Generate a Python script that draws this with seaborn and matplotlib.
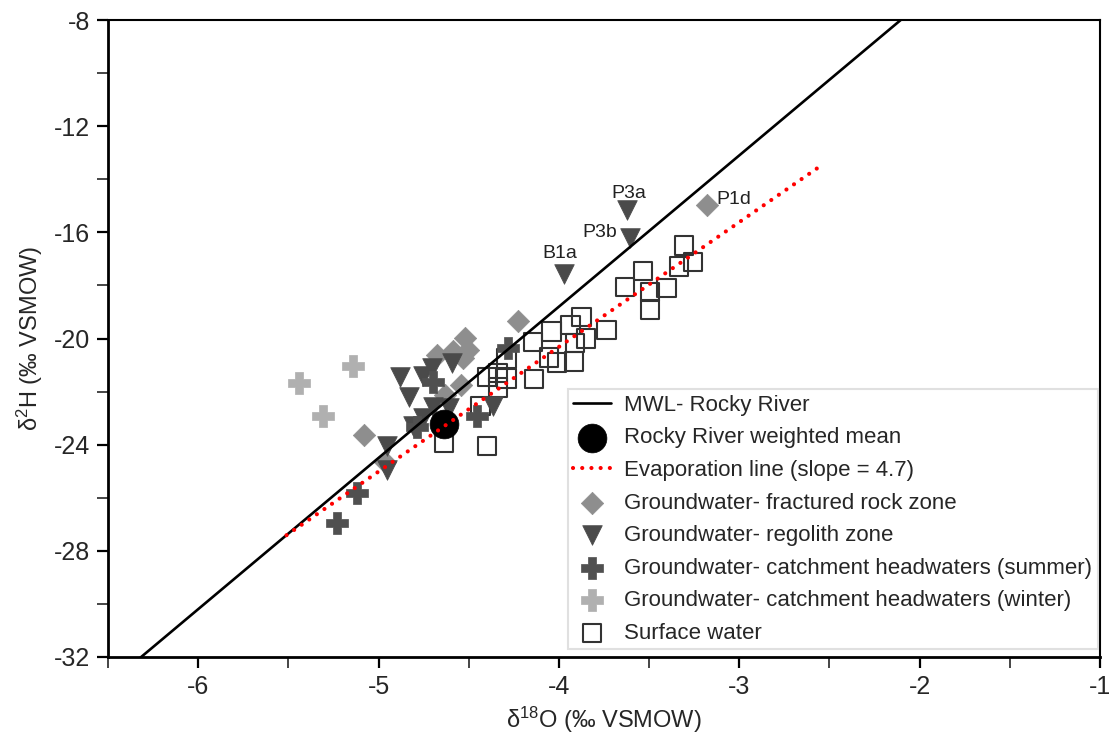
import matplotlib
matplotlib.use("Agg")
import matplotlib.pyplot as plt
from matplotlib.ticker import MultipleLocator, FormatStrFormatter
import numpy as np
import pandas as pd
import seaborn as sns

# ---------------- data ----------------
# Surface water
sw_x = [-3.307, -3.256, -3.335, -3.533, -3.634, -3.496, -3.403, -3.496, -3.736,
        -3.874, -3.935, -4.040, -3.850, -3.911, -4.142, -4.054, -4.010, -3.917,
        -4.139, -4.290, -4.336, -4.400, -4.336, -4.434, -4.400, -4.637, -4.290]
sw_y = [-16.49, -17.11, -17.29, -17.45, -18.05, -18.24, -18.09, -18.90, -19.68,
        -19.20, -19.49, -19.74, -20.00, -20.16, -20.12, -20.71, -20.91, -20.87,
        -21.53, -21.50, -21.29, -21.46, -21.84, -22.54, -24.05, -23.93, -20.75]

# Groundwater - fractured rock zone
fr_x = [-4.225, -4.521, -4.503, -4.586, -4.678, -4.530, -4.545, -4.632, -5.079, -4.964, -3.181]
fr_y = [-19.33, -19.99, -20.43, -20.46, -20.62, -20.75, -21.75, -22.13, -23.64, -24.64, -14.97]

# Groundwater - regolith zone
rg_x = [-3.621, -3.606, -3.972, -4.881, -4.752, -4.706, -4.595, -4.830, -4.697,
        -4.608, -4.752, -4.810, -4.365, -4.955, -4.955]
rg_y = [-15.16, -16.23, -17.55, -21.46, -21.41, -21.12, -20.94, -22.22, -22.57,
        -22.63, -23.01, -23.30, -22.54, -24.05, -24.96]

# Groundwater - catchment headwaters (summer)
su_x = [-4.697, -4.280, -4.456, -4.789, -5.120, -5.232]
su_y = [-21.63, -20.37, -22.92, -23.32, -25.83, -26.96]

# Groundwater - catchment headwaters (winter)
wi_x = [-5.44, -5.14, -5.31]
wi_y = [-21.67, -21.04, -22.92]

# Rocky River weighted mean
rr_x = [-4.637]
rr_y = [-23.22]

# Meteoric water line (Rocky River) and evaporation line
mwl_slope, mwl_intercept = 5.7, 4.0
mwl_xrange = [-6.32, -2.10]
evap_slope, evap_intercept = 4.7, -1.515
evap_xrange = [-5.51, -2.55]

# Labelled samples
lab_text = ["P3a", "P3b", "B1a", "P1d"]
lab_x = [-3.621, -3.606, -3.972, -3.181]
lab_y = [-15.16, -16.23, -17.55, -14.97]

# ---------------- plot ----------------
sns.set_style("ticks")
plt.rcParams["font.family"] = ["Liberation Sans", "DejaVu Sans"]
plt.rcParams["mathtext.default"] = "regular"

fig = plt.figure(figsize=(11.19, 7.44), dpi=100)
ax = fig.add_axes([0.0965, 0.117, 0.8865, 0.856])

sns.scatterplot(x=sw_x, y=sw_y, marker="s", s=175, facecolors="none",
                edgecolor="#333333", linewidth=1.5, color="#333333",
                label="Surface water", ax=ax, zorder=2)
sns.scatterplot(x=fr_x, y=fr_y, marker="D", s=130, color="#8e8e8e",
                edgecolor="#8e8e8e", linewidth=0.5,
                label="Groundwater- fractured rock zone", ax=ax, zorder=3)
sns.scatterplot(x=rg_x, y=rg_y, marker="v", s=200, color="#4a4a4a",
                edgecolor="#4a4a4a", linewidth=0.5,
                label="Groundwater- regolith zone", ax=ax, zorder=3)
sns.scatterplot(x=su_x, y=su_y, marker="P", s=230, color="#505050",
                edgecolor="#505050", linewidth=0.5,
                label="Groundwater- catchment headwaters (summer)", ax=ax, zorder=3)
sns.scatterplot(x=wi_x, y=wi_y, marker="P", s=230, color="#b0b0b0",
                edgecolor="#b0b0b0", linewidth=0.5,
                label="Groundwater- catchment headwaters (winter)", ax=ax, zorder=3)
sns.scatterplot(x=rr_x, y=rr_y, marker="o", s=430, color="black",
                edgecolor="black", linewidth=0.5,
                label="Rocky River weighted mean", ax=ax, zorder=4)

mx = np.array(mwl_xrange)
sns.lineplot(x=mx, y=mwl_slope * mx + mwl_intercept, color="black", linewidth=1.9,
             label="MWL- Rocky River", ax=ax, zorder=5)
ex = np.array(evap_xrange)
sns.lineplot(x=ex, y=evap_slope * ex + evap_intercept, color="#ff0000",
             linewidth=3.0, linestyle=(0, (0.01, 2.2)), dash_capstyle="round",
             label="Evaporation line (slope = 4.7)", ax=ax, zorder=5)

# annotations
offsets = {"P3a": (1, 6, "center", "bottom"),
           "P3b": (-9, -2, "right", "bottom"),
           "B1a": (-3, 8, "center", "bottom"),
           "P1d": (7, 4, "left", "center")}
for t, x, y in zip(lab_text, lab_x, lab_y):
    dx, dy, ha, va = offsets[t]
    ax.annotate(t, (x, y), xytext=(dx, dy), textcoords="offset points",
                ha=ha, va=va, fontsize=14, color="#222222")

ax.set_xlim(-6.5, -1)
ax.set_ylim(-32, -8)
ax.xaxis.set_major_locator(MultipleLocator(1))
ax.xaxis.set_minor_locator(MultipleLocator(0.5))
ax.yaxis.set_major_locator(MultipleLocator(4))
ax.yaxis.set_minor_locator(MultipleLocator(2))
ax.xaxis.set_major_formatter(FormatStrFormatter("%d"))
ax.yaxis.set_major_formatter(FormatStrFormatter("%d"))
ax.tick_params(axis="both", which="major", direction="out", length=8, width=1.6,
               labelsize=18, pad=5, color="black")
ax.tick_params(axis="both", which="minor", direction="out", length=8, width=1.2)
for side in ["left", "bottom"]:
    ax.spines[side].set_linewidth(2.0)
for side in ["top", "right"]:
    ax.spines[side].set_linewidth(1.5)
for sp in ax.spines.values():
    sp.set_color("black")

ax.set_xlabel(r"δ$^{18}$O (‰ VSMOW)", fontsize=17, labelpad=4)
ax.set_ylabel(r"δ$^{2}$H (‰ VSMOW)", fontsize=17, labelpad=6)

order = ["MWL- Rocky River", "Rocky River weighted mean", "Evaporation line (slope = 4.7)",
         "Groundwater- fractured rock zone", "Groundwater- regolith zone",
         "Groundwater- catchment headwaters (summer)",
         "Groundwater- catchment headwaters (winter)", "Surface water"]
h, l = ax.get_legend_handles_labels()
hd = dict(zip(l, h))
leg = ax.legend([hd[k] for k in order], order, loc="lower right",
                bbox_to_anchor=(0.998, 0.012), borderaxespad=0, fontsize=16,
                frameon=True, fancybox=False, edgecolor="#d9d9d9",
                labelspacing=0.52, handlelength=1.7, handletextpad=0.6,
                borderpad=0.25)
leg.get_frame().set_linewidth(1.5)

fig.savefig("out.png", dpi=100)
